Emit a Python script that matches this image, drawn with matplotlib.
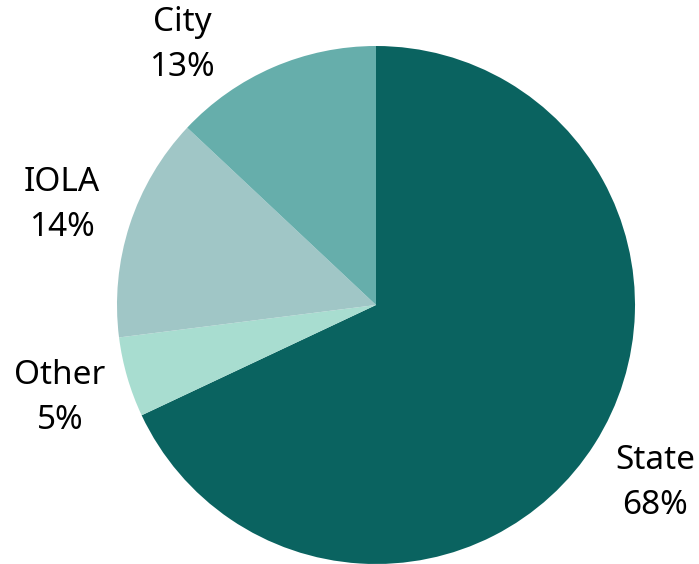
import matplotlib.pyplot as plt

# Datos de la torta
categorias = ['State', 'Other', 'IOLA', 'City']
valores = [68, 5, 14, 13]
colores = ['#0a6360', '#a8ddd0', '#a0c6c6', '#66aeab']

# posiciones de las etiquetas (en unidades del radio)
pos_etiquetas = [(1.077, -0.687), (-1.220, -0.359), (-1.212, 0.386), (-0.749, 1.004)]

fig = plt.figure(figsize=(6.99, 5.64), dpi=100)
ax = fig.add_axes([0, 0, 1, 1])

cx, cy, r = 376, 305, 259
ax.pie(valores, colors=colores, startangle=90, counterclock=False,
       radius=1, center=(0, 0), wedgeprops={'linewidth': 0})

for cat, val, (x, y) in zip(categorias, valores, pos_etiquetas):
    ax.text(x, y, f'{cat}\n{val}%', ha='center', va='center',
            fontsize=24, family='Noto Sans', linespacing=1.5)

ax.set_xlim(-cx / r, (699 - cx) / r)
ax.set_ylim((cy - 564) / r, cy / r)
ax.set_aspect('auto')
ax.axis('off')

fig.savefig('out.png', dpi=100)
